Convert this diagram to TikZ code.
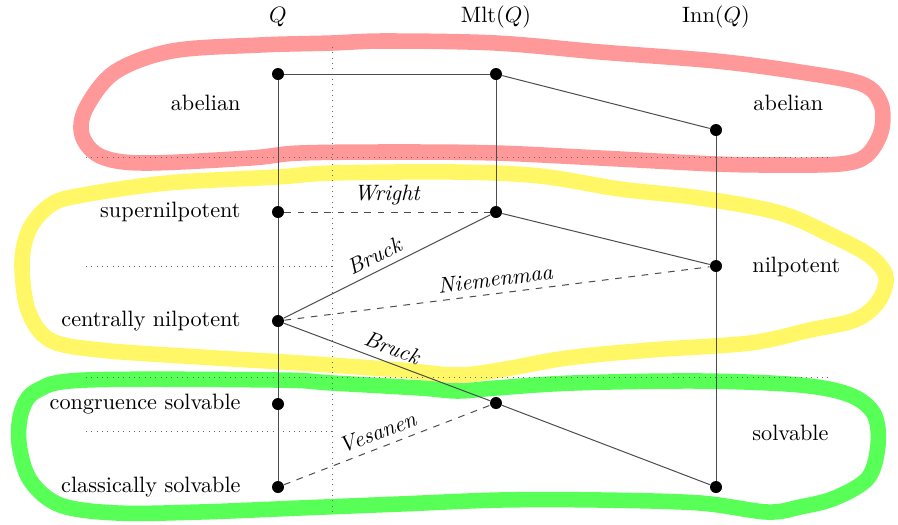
\documentclass[tikz,border=0pt]{standalone}
\begin{document}
\begin{tikzpicture}[x=0.45pt,y=-0.45pt,
  dot/.style={circle,fill=black,inner sep=0pt,minimum size=5.4pt},
  edge/.style={draw=black!70,line width=0.45pt},
  dashededge/.style={edge,dashed},
  guide/.style={draw=black!60,dotted,line width=0.4pt},
  blob/.style={line width=7pt,line join=round},
  lab/.style={font=\itshape,inner sep=1pt},
  txt/.style={inner sep=0pt}]
\useasboundingbox (0,0) rectangle (898,524);

% blobs
\draw[blob,draw=red,draw opacity=0.4] plot[smooth cycle,tension=0.55] coordinates {
 (385,41) (496,43) (600,52) (716,61) (800,72) (862,84) (881,104) (881,132) (866,156)
 (840,164) (780,165) (716,164) (600,158) (496,153) (400,152) (300,153) (250,158)
 (143,163) (100,156) (82,135) (86,108) (115,72) (172,51) (260,45) (332,43)};
\draw[blob,draw=yellow,draw opacity=0.6] plot[smooth cycle,tension=0.55] coordinates {
 (455,172) (540,176) (620,189) (700,198) (780,213) (833,236) (870,256) (886,277)
 (878,302) (855,320) (810,330) (750,343) (650,350) (567,358) (500,370) (457,375)
 (400,370) (300,363) (200,357) (100,350) (50,340) (28,310) (22,262) (30,228)
 (52,204) (83,195) (167,183) (277,177) (333,173)};
\draw[blob,draw=green,draw opacity=0.66] plot[smooth cycle,tension=0.55] coordinates {
 (767,512) (700,503) (600,500) (500,500) (400,504) (300,508) (200,512) (117,513)
 (60,505) (30,480) (19,443) (22,410) (38,390) (86,380) (277,380) (332,383)
 (420,388) (458,391) (496,388) (573,383) (700,381) (800,385) (850,395) (874,414)
 (878,445) (868,478) (835,498) (800,507)};

% guides
\coordinate (g1a) at (332,47); \coordinate (g1b) at (332,512);
\coordinate (g2a) at (86,157); \coordinate (g2b) at (828,157);
\coordinate (g3a) at (86,377); \coordinate (g3b) at (828,377);
\coordinate (g4a) at (86,266); \coordinate (g4b) at (332,266);
\coordinate (g5a) at (86,431); \coordinate (g5b) at (332,431);
\draw[guide] (g1a) -- (g1b);
\draw[guide] (g2a) -- (g2b);
\draw[guide] (g3a) -- (g3b);
\draw[guide] (g4a) -- (g4b);
\draw[guide] (g5a) -- (g5b);

% headers
\node[txt] (hQ) at (278,17) {$Q$};
\node[txt] (hM) at (496,17) {$\mathrm{Mlt}(Q)$};
\node[txt] (hI) at (716,17) {$\mathrm{Inn}(Q)$};

% dots
\node[dot] (qa) at (278,74) {};
\node[dot] (qs) at (278,212) {};
\node[dot] (qc) at (278,321) {};
\node[dot] (qg) at (278,404) {};
\node[dot] (qk) at (278,487) {};
\node[dot] (ma) at (496,74) {};
\node[dot] (mn) at (496,212) {};
\node[dot] (ms) at (496,403) {};
\node[dot] (ia) at (716,130) {};
\node[dot] (in) at (716,266) {};
\node[dot] (is) at (716,487) {};

% labels
\node[txt,anchor=east] (labA) at (241,103) {abelian};
\node[txt,anchor=west] (labB) at (753,103) {abelian};
\node[txt,anchor=east] (labS) at (241,212) {supernilpotent};
\node[txt,anchor=east] (labC) at (241,321) {centrally nilpotent};
\node[txt,anchor=east] (labG) at (241,404) {congruence solvable};
\node[txt,anchor=east] (labK) at (241,487) {classically solvable};
\node[txt,anchor=west] (labN) at (752,267) {nilpotent};
\node[txt,anchor=west] (labV) at (752,433) {solvable};

% edges
\draw[edge] (qa) -- (qs) -- (qc) -- (qg) -- (qk);
\draw[edge] (qa) -- (ma);
\draw[edge] (ma) -- (ia);
\draw[edge] (ma) -- (mn);
\draw[edge] (ia) -- (in) -- (is);
\draw[edge] (mn) -- (in);
\draw[dashededge] (qs) -- node[lab,midway,above,sloped,yshift=2pt] {Wright} (mn);
\draw[edge] (qc) -- node[lab,pos=0.47,above,sloped,yshift=2pt] {Bruck} (mn);
\draw[dashededge] (qc) -- node[lab,midway,above,sloped,yshift=2pt] {Niemenmaa} (in);
\draw[edge] (qc) -- node[lab,midway,above,sloped,yshift=2pt] {Bruck} (ms);
\draw[edge] (ms) -- (is);
\draw[dashededge] (qk) -- node[lab,pos=0.48,above,sloped,yshift=2pt] {Vesanen} (ms);
\end{tikzpicture}
\end{document}
